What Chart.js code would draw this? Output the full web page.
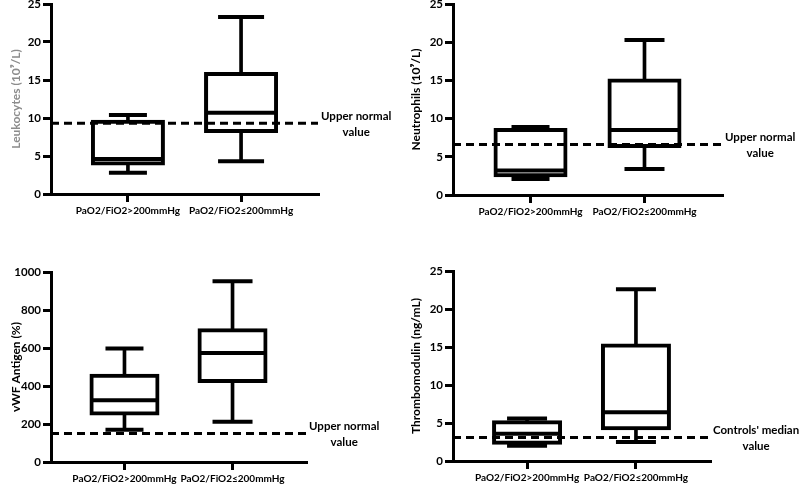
<!DOCTYPE html>
<html>
<head>
<meta charset="utf-8">
<script src="https://cdn.jsdelivr.net/npm/chart.js@4"></script>
<style>
  body { margin: 0; background: #fff; }
  #wrap { position: relative; width: 800px; height: 488px; }
  .panel { position: absolute; width: 400px; height: 244px; }
</style>
</head>
<body>
<div id="wrap">
  <div class="panel" style="left:0;top:0"><canvas id="c1" width="400" height="244"></canvas></div>
  <div class="panel" style="left:400px;top:0"><canvas id="c2" width="400" height="244"></canvas></div>
  <div class="panel" style="left:0;top:244px"><canvas id="c3" width="400" height="244"></canvas></div>
  <div class="panel" style="left:400px;top:244px"><canvas id="c4" width="400" height="244"></canvas></div>
</div>
<script>
// groups on the x axis
const groups = ['PaO2/FiO2>200mmHg', 'PaO2/FiO2\u2264200mmHg'];

// box plot values: [>200, <=200]
const leukoMin = [2.8, 4.3];
const leukoQ1  = [4.0, 8.3];
const leukoMed = [4.6, 10.7];
const leukoQ3  = [9.5, 15.8];
const leukoMax = [10.4, 23.3];
const leukoRef = 9.3;

const neutroMin = [2.1, 3.4];
const neutroQ1  = [2.6, 6.4];
const neutroMed = [3.2, 8.5];
const neutroQ3  = [8.5, 15.0];
const neutroMax = [8.9, 20.3];
const neutroRef = 6.6;

const vwfMin = [170, 212];
const vwfQ1  = [255, 426];
const vwfMed = [325, 574];
const vwfQ3  = [454, 693];
const vwfMax = [598, 951];
const vwfRef = 150;

const tmMin = [2.0, 2.5];
const tmQ1  = [2.4, 4.3];
const tmMed = [3.6, 6.4];
const tmQ3  = [5.1, 15.2];
const tmMax = [5.6, 22.6];
const tmRef = 3.1;

const ticks25 = [0, 5, 10, 15, 20, 25];
const ticks1000 = [0, 200, 400, 600, 800, 1000];

const FONT = 'Lato';
const xMin = 0.32, xMax = 2.68;

// writes the two-line note next to the dashed line
const refLabel = {
  id: 'refLabel',
  afterDatasetsDraw(chart, args, opts) {
    const ctx = chart.ctx;
    const y = chart.scales.y.getPixelForValue(opts.value);
    ctx.save();
    ctx.font = 'bold 11.5px ' + FONT;
    ctx.fillStyle = '#000';
    ctx.textAlign = 'center';
    ctx.textBaseline = 'middle';
    const w = ctx.measureText(opts.lines[0]).width;
    const cx = chart.chartArea.right + 3 + w / 2;
    ctx.fillText(opts.lines[0], cx, y - 7);
    ctx.fillText(opts.lines[1], cx, y + 9);
    ctx.restore();
  }
};

function boxPanel(id, p) {
  const pos = [1, 2];
  const pts = (arr) => arr.map((v, i) => ({ x: pos[i], y: v }));
  const datasets = [
    {
      type: 'line', data: [{ x: xMin, y: p.ref }, { x: xMax, y: p.ref }],
      borderColor: '#000', borderWidth: 3, borderDash: [8, 5],
      pointRadius: 0, order: -10, clip: false
    },
    {
      type: 'line', data: pts(p.med), showLine: false,
      pointStyle: 'line', pointRadius: p.boxW / 2 - 3,
      pointBorderWidth: 4, borderWidth: 4, pointBorderColor: '#000', borderColor: '#000',
      order: -5, clip: false
    },
    {
      // border centred on q1/q3, like the original
      type: 'bar', data: p.q1.map((v, i) => ({ x: pos[i], y: [v, p.q3[i]] })),
      backgroundColor: '#fff', borderColor: '#000', borderWidth: 4, borderSkipped: false,
      inflateAmount: 2, barThickness: p.boxW - 4, grouped: false, order: 0
    },
    {
      type: 'line', data: pts(p.max).concat(pts(p.min)), showLine: false,
      pointStyle: 'line', pointRadius: p.capW.concat(p.capW).map(w => w / 2),
      pointBorderWidth: 4, borderWidth: 4, pointBorderColor: '#000', borderColor: '#000',
      order: 5, clip: false
    },
    {
      type: 'bar', data: p.min.map((v, i) => ({ x: pos[i], y: [v, p.max[i]] })),
      backgroundColor: '#000', borderWidth: 0, barThickness: 3, grouped: false, order: 10
    }
  ];

  const L = p.area;
  return new Chart(document.getElementById(id), {
    type: 'bar',
    data: { datasets },
    plugins: [refLabel],
    options: {
      responsive: false,
      devicePixelRatio: 1,
      animation: false,
      events: [],
      layout: { autoPadding: false, padding: { left: 0, top: L.top, right: 400 - L.right, bottom: 0 } },
      plugins: {
        legend: { display: false },
        tooltip: { enabled: false },
        refLabel: { value: p.ref, lines: p.note }
      },
      scales: {
        x: {
          type: 'linear', min: xMin, max: xMax, offset: false,
          afterBuildTicks: s => { s.ticks = pos.map(v => ({ value: v })); },
          afterFit: s => { s.height = 244 - L.bottom; s.paddingLeft = 0; s.paddingRight = 0; },
          ticks: {
            callback: (v, i) => groups[i], color: '#000', padding: 3,
            maxRotation: 0, autoSkip: false,
            font: { family: FONT, size: 10, weight: 'bold' }
          },
          grid: { offset: false, drawOnChartArea: false, tickLength: 8, lineWidth: 3, color: '#000' },
          border: { width: 3, color: '#000' }
        },
        y: {
          min: p.ticks[0], max: p.ticks[p.ticks.length - 1],
          afterBuildTicks: s => { s.ticks = p.ticks.map(v => ({ value: v })); },
          afterFit: s => { s.width = L.left; s.paddingTop = 0; s.paddingBottom = 0; },
          ticks: {
            callback: v => String(v), color: '#000', padding: 2,
            font: { family: FONT, size: 11.5, weight: 'bold' }
          },
          grid: { drawOnChartArea: false, tickLength: 8, lineWidth: 3, color: '#000' },
          border: { width: 3, color: '#000' },
          title: {
            display: true, text: p.title, color: p.titleColor || '#000',
            padding: { top: 9, bottom: 0 },
            font: { family: FONT, size: 12, weight: 'bold' }
          }
        }
      }
    }
  });
}

boxPanel('c1', {
  min: leukoMin, q1: leukoQ1, med: leukoMed, q3: leukoQ3, max: leukoMax, ref: leukoRef,
  ticks: ticks25, title: 'Leukocytes (10\u2079/L)', titleColor: '#8c8c8c',
  note: ['Upper normal', 'value'],
  area: { left: 51, right: 318, top: 4, bottom: 194 },
  boxW: 74, capW: [38, 46]
});
boxPanel('c2', {
  min: neutroMin, q1: neutroQ1, med: neutroMed, q3: neutroQ3, max: neutroMax, ref: neutroRef,
  ticks: ticks25, title: 'Neutrophils (10\u2079/L)',
  note: ['Upper normal', 'value'],
  area: { left: 53, right: 322, top: 4, bottom: 195 },
  boxW: 74, capW: [38, 40]
});
boxPanel('c3', {
  min: vwfMin, q1: vwfQ1, med: vwfMed, q3: vwfQ3, max: vwfMax, ref: vwfRef,
  ticks: ticks1000, title: 'vWF Antigen (%)',
  note: ['Upper normal', 'value'],
  area: { left: 51, right: 306, top: 28, bottom: 218 },
  boxW: 70, capW: [38, 40]
});
boxPanel('c4', {
  min: tmMin, q1: tmQ1, med: tmMed, q3: tmQ3, max: tmMax, ref: tmRef,
  ticks: ticks25, title: 'Thrombomodulin (ng/mL)',
  note: ["Controls' median", 'value'],
  area: { left: 53, right: 310, top: 27, bottom: 217 },
  boxW: 70, capW: [40, 40]
});
</script>
</body>
</html>
